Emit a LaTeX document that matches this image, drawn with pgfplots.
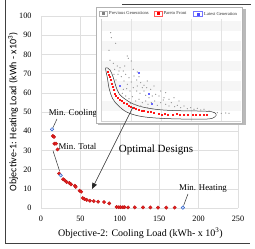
\documentclass[border=0pt]{standalone}
\usepackage{fontspec}
\setmainfont{Liberation Serif}
\newfontfamily\calibri{Carlito}
\usepackage{pgfplots}
\pgfplotsset{compat=1.18}
\usetikzlibrary{arrows.meta}
\definecolor{ptred}{RGB}{230,30,30}
\definecolor{ptredd}{RGB}{190,20,20}
\definecolor{ptblue}{RGB}{40,100,200}
\begin{document}
\begin{tikzpicture}[x=1pt,y=1pt]
\draw[black!75, line width=0.9pt] (5,249) -- (5,6) -- (250,6);
\draw[black!75, line width=0.9pt] (122,245) -- (251,245);

\begin{axis}[
  at={(41pt,41pt)}, anchor=south west,
  scale only axis, width=197pt, height=192pt,
  xmin=0,xmax=250,ymin=0,ymax=100,
  xtick={0,50,...,250}, ytick={0,10,...,100},
  grid=major, major grid style={gray!25, line width=0.5pt},
  axis line style={draw=none}, major tick length=0pt,
  tick label style={font=\fontsize{8.2}{9}\selectfont},
  /pgf/number format/assume math mode=true,
  xticklabel style={yshift=-5pt},
  yticklabel style={xshift=-6pt},
  xlabel={Objective-2: Cooling Load (kWh- x 10\textsuperscript{3})},
  xlabel style={at={(axis description cs:0.505,-0.13)}, anchor=center, font=\fontsize{10}{12}\selectfont},
  ylabel={Objective-1: Heating Load (kWh - x10\textsuperscript{3})},
  ylabel style={at={(axis description cs:-0.142,0.5)}, anchor=center, font=\calibri\fontsize{10}{12}\selectfont},
  clip=false,
]
\addplot[only marks, mark=*, mark size=1.7pt, mark options={draw=ptredd, fill=ptred, line width=0.4pt}] coordinates {
(15,37.5)(16.5,37)(17,33.5)(19,33.5)(21,30.5)(23,18)(28,15)(30,14.5)(32.5,13.5)(36,13)(38,12.3)(43,11.6)(44,11)(49,9)(51,8.5)(53,5.2)(55,4.7)(58,4.2)(62,3.8)(67,3.6)(72.5,3.3)(80,3.1)(86.5,2.4)(96,0.5)(98.7,0.4)(101,0.4)(104,0.4)(106,0.4)(110.5,0.3)(119,0.3)(129.5,0.3)(138.8,0.3)(148.5,0.2)(159,0.2)(169.6,0.2)
};
\addplot[only marks, mark=*, mark size=1.7pt, mark options={draw=ptblue, fill=blue!15, line width=0.5pt}] coordinates {
(14,41)(25,17)(180,0.2)
};
\draw[black!80, line width=0.5pt] (axis cs:20.3,46.4) -- (axis cs:15.2,41.9);
\node[font=\fontsize{8.8}{10}\selectfont, inner sep=0] at (axis cs:40.6,49.5) {Min. Cooling};
\draw[black!80, line width=0.5pt] (axis cs:15.2,29.9) -- (axis cs:23.6,19.2);
\node[font=\fontsize{8.8}{10}\selectfont, inner sep=0] at (axis cs:46.3,31.8) {Min. Total};
\draw[black!80, line width=0.5pt] (axis cs:186.5,7.3) -- (axis cs:181,1.3);
\node[font=\fontsize{8.8}{10}\selectfont, inner sep=0] at (axis cs:205.6,10.3) {Min. Heating};
\node[font=\fontsize{11}{13}\selectfont, inner sep=0] at (axis cs:146,30.2) {Optimal Designs};
\coordinate (arrS) at (axis cs:116.8,52.6);
\coordinate (arrE) at (axis cs:64.7,9.9);
\end{axis}

\begin{axis}[
  at={(96pt,124pt)}, anchor=south west,
  scale only axis, width=151pt, height=118pt,
  xmin=6, xmax=459, ymin=-357, ymax=-3,
  axis lines=none, clip=false,
]
\fill[gray!55] (axis cs:444,-9) rectangle (axis cs:456,-357);
\fill[gray!55] (axis cs:12,-351) rectangle (axis cs:456,-357);
\filldraw[fill=white, draw=gray!60, line width=0.4pt] (axis cs:6,-3) rectangle (axis cs:444,-351);
\fill[gray!7] (axis cs:20,-45) rectangle (axis cs:440,-75);
\fill[gray!7] (axis cs:20,-105) rectangle (axis cs:440,-135);
\fill[gray!7] (axis cs:20,-165) rectangle (axis cs:440,-195);
\fill[gray!7] (axis cs:20,-225) rectangle (axis cs:440,-255);
\fill[gray!7] (axis cs:20,-285) rectangle (axis cs:440,-315);
\draw[gray!22, line width=0.3pt] (axis cs:110,-40) -- (axis cs:110,-345);
\draw[gray!22, line width=0.3pt] (axis cs:200,-40) -- (axis cs:200,-345);
\draw[gray!22, line width=0.3pt] (axis cs:290,-40) -- (axis cs:290,-345);
\draw[gray!22, line width=0.3pt] (axis cs:380,-40) -- (axis cs:380,-345);
\draw[gray!35, line width=0.3pt] (axis cs:20,-40) -- (axis cs:20,-345) -- (axis cs:440,-345);
% legend
\draw[gray!60, fill=white, line width=0.3pt] (axis cs:15,-14) rectangle (axis cs:40,-30);
\draw[red!65, fill=white, line width=0.3pt] (axis cs:180,-14) rectangle (axis cs:205,-30);
\draw[blue!55, fill=white, line width=0.3pt] (axis cs:298,-16) rectangle (axis cs:325,-31);
\addplot[only marks, mark=square*, mark size=0.7pt, gray] coordinates {(27.5,-22)};
\addplot[only marks, mark=square*, mark size=1pt, red] coordinates {(192.5,-22)};
\addplot[only marks, mark=square*, mark size=1pt, blue!70] coordinates {(311.5,-23.5)};
\node[anchor=west, font=\fontsize{4.6}{5}\selectfont, text=black!80, inner sep=0] at (axis cs:45,-22) {Previous Generations};
\node[anchor=west, font=\fontsize{4.6}{5}\selectfont, text=black!80, inner sep=0] at (axis cs:208,-22) {Pareto Front};
\node[anchor=west, font=\fontsize{4.6}{5}\selectfont, text=black!80, inner sep=0] at (axis cs:330,-24) {Latest Generation};
% previous generations
\addplot[only marks, mark=*, mark size=0.45pt, mark options={draw=gray!80, fill=gray!40, line width=0.2pt}] coordinates {
(50,-80)(52,-95)(65,-112)(45,-133)(100,-150)(103,-157)(48,-163)(58,-172)(70,-180)(78,-185)(62,-190)(112,-165)(88,-195)(95,-205)(72,-205)(82,-212)(105,-215)(120,-210)(66,-222)(90,-225)(100,-235)(112,-228)(128,-222)(140,-230)(150,-238)(78,-240)(88,-250)(98,-248)(108,-255)(118,-245)(128,-255)(138,-262)(150,-255)(158,-245)(165,-275)(175,-270)(85,-262)(95,-270)(105,-278)(115,-272)(125,-285)(135,-280)(145,-290)(155,-285)(162,-295)(172,-290)(182,-285)(190,-298)(200,-290)(208,-282)(215,-295)(225,-300)(232,-290)(242,-302)(250,-298)(260,-305)(270,-300)(280,-308)(290,-305)(300,-310)(310,-307)(320,-312)(330,-310)(345,-315)(195,-270)(210,-275)(225,-280)(185,-265)(170,-250)(145,-245)(130,-240)(155,-268)(120,-295)(110,-292)(140,-300)(160,-305)(175,-308)(370,-320)(382,-322)(395,-321)(405,-322)(60,-205)(75,-195)(92,-180)(118,-190)(135,-212)(130,-198)(160,-225)(180,-240)(200,-255)(215,-260)(240,-275)(255,-285)
};
% ellipse outline
\draw[gray!40!black, line width=0.5pt] plot[smooth cycle, tension=0.6] coordinates {
(axis cs:35,-186)(axis cs:40,-215)(axis cs:46,-250)(axis cs:56,-278)(axis cs:72,-298)(axis cs:98,-318)(axis cs:135,-330)(axis cs:185,-336)(axis cs:260,-339)(axis cs:340,-339)(axis cs:362,-333)(axis cs:366,-324)(axis cs:352,-317)(axis cs:310,-315)(axis cs:250,-314)(axis cs:195,-311)(axis cs:150,-304)(axis cs:118,-294)(axis cs:94,-280)(axis cs:76,-264)(axis cs:66,-242)(axis cs:58,-215)(axis cs:48,-192)
};
% pareto front
\addplot[only marks, mark=square*, mark size=0.55pt, mark options={draw=red!90, fill=red!80}] coordinates {
(42,-197)(44,-205)(47,-212)(50,-222)(53,-232)(56,-242)(58,-252)(61,-262)(64,-268)(70,-274)(76,-280)(83,-285)(90,-290)(97,-294)(104,-298)(111,-302)(118,-305)(126,-308)(134,-311)(142,-313)(150,-315)(160,-317)(170,-318)(180,-319)(195,-324)(202,-325)(212,-324)(222,-325)(235,-325)(248,-324)(258,-325)(270,-325)(282,-325)(295,-326)(305,-325)(318,-326)(328,-326)(338,-326)
};
% latest generation
\addplot[only marks, mark=square*, mark size=0.6pt, mark options={draw=blue!60, fill=blue!35}] coordinates {
(135,-200)(165,-262)(77,-240)(172,-293)
};
\end{axis}

\draw[black!85, line width=0.6pt, -{Triangle[length=6pt,width=5pt]}] (arrS) -- (arrE);
\pgfresetboundingbox
\path (0,0) rectangle (255,249);
\end{tikzpicture}
\end{document}
